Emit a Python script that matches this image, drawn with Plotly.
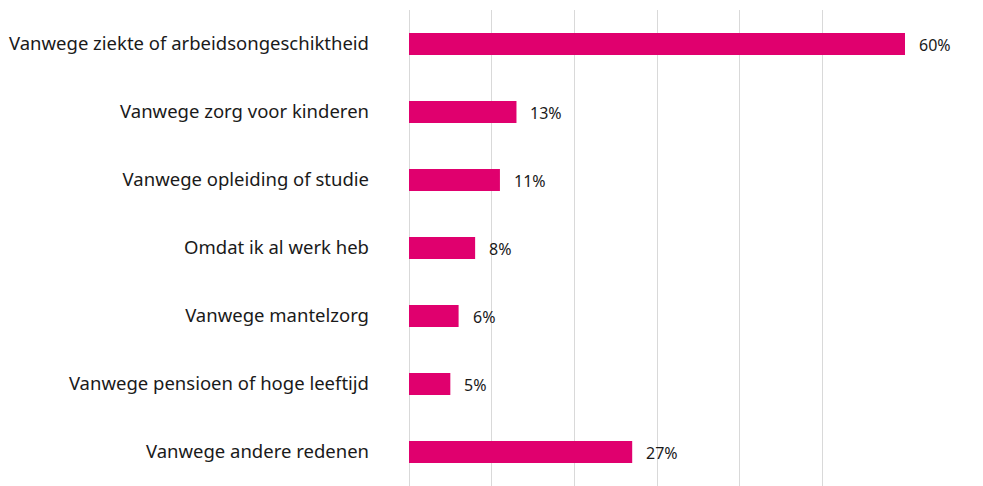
import plotly.graph_objects as go

categories = [
    "Vanwege ziekte of arbeidsongeschiktheid",
    "Vanwege zorg voor kinderen",
    "Vanwege opleiding of studie",
    "Omdat ik al werk heb",
    "Vanwege mantelzorg",
    "Vanwege pensioen of hoge leeftijd",
    "Vanwege andere redenen",
]
values = [60, 13, 11, 8, 6, 5, 27]
labels = [f"{v}%" for v in values]

fig = go.Figure()
fig.add_trace(go.Bar(
    x=values, y=categories, orientation="h",
    marker=dict(color="#E0006E", line=dict(width=0)),
    width=0.32,
    hoverinfo="skip",
))
for v, c, t in zip(values, categories, labels):
    fig.add_annotation(x=v, y=c, text=t, showarrow=False, xanchor="left",
                       xshift=12, yshift=-1, font=dict(family="Noto Sans", size=16, color="#1a1a1a"))

fig.update_layout(
    width=983, height=486,
    margin=dict(l=409, r=78, t=10, b=0),
    paper_bgcolor="white", plot_bgcolor="white",
    showlegend=False,
    font=dict(family="Noto Sans", color="#1a1a1a"),
    xaxis=dict(range=[0, 60], dtick=10, showticklabels=False, showgrid=True,
               gridcolor="#D9D9D9", gridwidth=1, zeroline=True, zerolinecolor="#D9D9D9",
               zerolinewidth=1, showline=False, fixedrange=True),
    yaxis=dict(autorange="reversed", showgrid=False, showline=False, zeroline=False,
               ticks="", ticklabelstandoff=39, tickfont=dict(size=18.5, color="#1a1a1a")),
)
fig.write_html("out.html", config={"displayModeBar": False},
               post_script="document.body.style.margin='0';")
